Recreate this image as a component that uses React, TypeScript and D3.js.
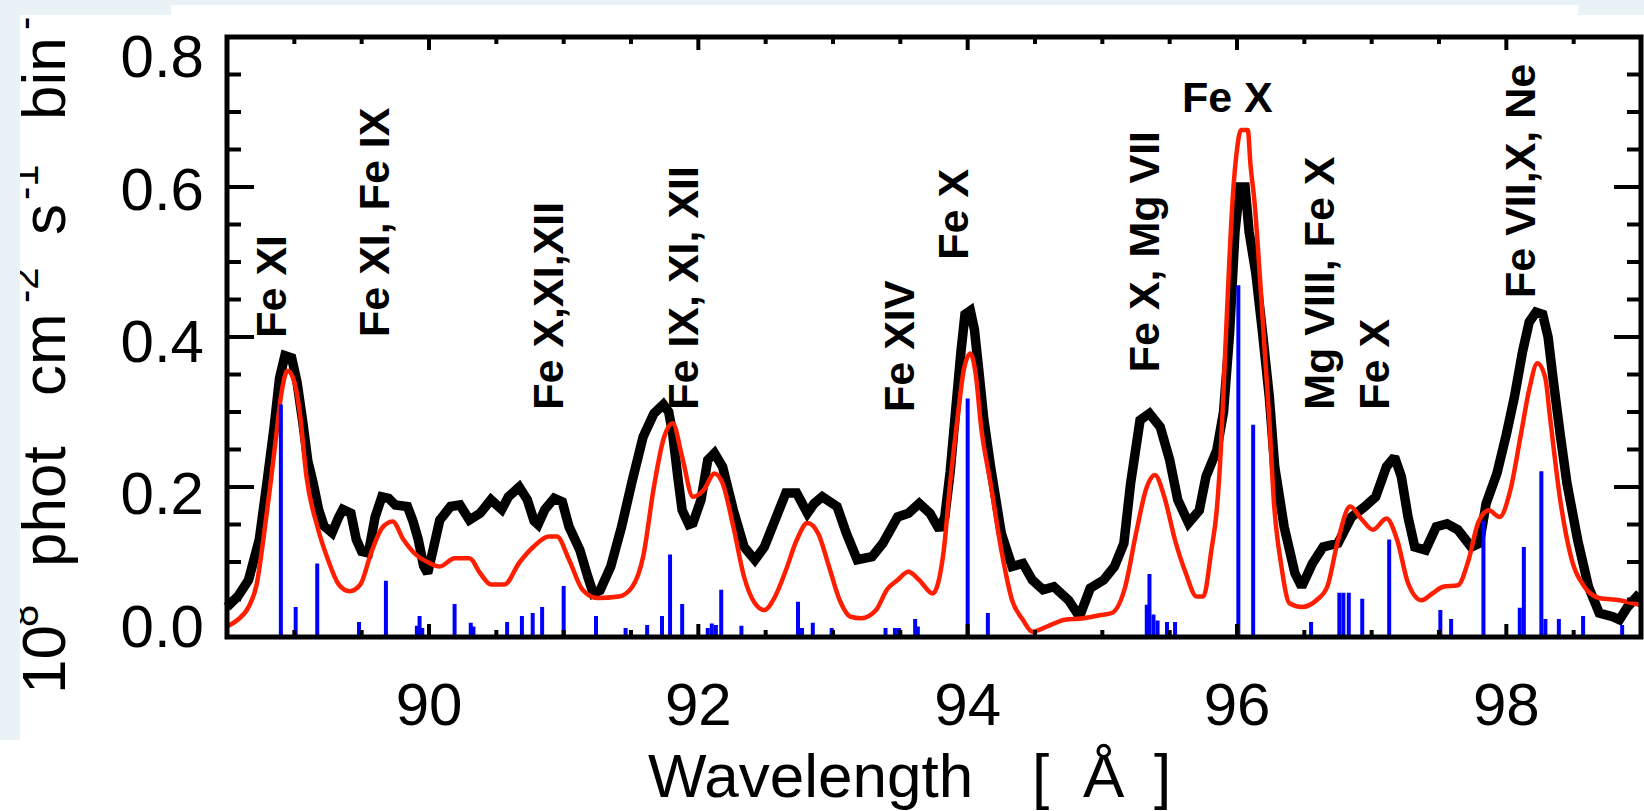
import React from 'react';
import * as d3 from 'd3';

// ---------- data ----------
const observedWave = [88.50,88.58,88.66,88.74,88.80,88.85,88.89,88.93,88.98,89.02,89.06,89.10,89.14,89.18,89.22,89.28,89.33,89.36,89.42,89.46,89.50,89.55,89.60,89.65,89.70,89.75,89.84,89.88,89.92,89.96,89.99,90.03,90.08,90.16,90.23,90.30,90.38,90.46,90.54,90.59,90.67,90.73,90.78,90.81,90.86,90.93,90.99,91.04,91.12,91.18,91.22,91.27,91.35,91.43,91.51,91.59,91.67,91.74,91.78,91.81,91.85,91.88,91.93,91.96,92.02,92.07,92.12,92.18,92.26,92.34,92.42,92.49,92.57,92.65,92.73,92.81,92.86,92.92,93.03,93.10,93.18,93.29,93.37,93.48,93.56,93.64,93.72,93.79,93.83,93.87,93.91,93.95,93.98,94.02,94.05,94.08,94.12,94.17,94.25,94.33,94.41,94.48,94.56,94.64,94.75,94.83,94.91,95.01,95.09,95.16,95.21,95.28,95.35,95.43,95.50,95.56,95.64,95.72,95.77,95.85,95.90,95.945,95.985,96.02,96.06,96.09,96.14,96.19,96.24,96.28,96.35,96.43,96.48,96.56,96.64,96.75,96.85,96.95,97.03,97.11,97.17,97.22,97.27,97.32,97.40,97.48,97.56,97.64,97.74,97.80,97.85,97.93,98.00,98.06,98.12,98.17,98.22,98.27,98.31,98.35,98.40,98.45,98.53,98.61,98.69,98.79,98.84,98.90,98.99];
const observedFlux = [0.040,0.054,0.076,0.13,0.21,0.28,0.345,0.375,0.372,0.34,0.29,0.235,0.205,0.17,0.148,0.139,0.16,0.17,0.165,0.13,0.114,0.112,0.16,0.187,0.185,0.176,0.174,0.155,0.13,0.095,0.085,0.116,0.156,0.174,0.176,0.156,0.165,0.183,0.17,0.187,0.20,0.183,0.155,0.15,0.17,0.185,0.18,0.147,0.116,0.08,0.058,0.062,0.094,0.147,0.209,0.267,0.298,0.31,0.30,0.27,0.21,0.169,0.15,0.152,0.183,0.236,0.245,0.227,0.169,0.12,0.103,0.12,0.156,0.192,0.192,0.165,0.178,0.187,0.174,0.138,0.103,0.107,0.125,0.16,0.165,0.178,0.165,0.143,0.16,0.22,0.30,0.38,0.43,0.435,0.41,0.36,0.29,0.227,0.138,0.094,0.098,0.076,0.063,0.067,0.049,0.027,0.065,0.076,0.094,0.125,0.205,0.289,0.298,0.28,0.236,0.183,0.152,0.169,0.214,0.249,0.30,0.405,0.54,0.60,0.60,0.54,0.485,0.405,0.32,0.227,0.147,0.085,0.067,0.098,0.12,0.125,0.16,0.174,0.187,0.227,0.24,0.214,0.16,0.12,0.116,0.147,0.151,0.143,0.12,0.125,0.178,0.218,0.27,0.32,0.38,0.42,0.433,0.43,0.40,0.34,0.27,0.205,0.129,0.067,0.032,0.027,0.023,0.04,0.058];

const modelWave = [88.50,88.58,88.66,88.72,88.77,88.82,88.86,88.90,88.95,89.00,89.04,89.09,89.17,89.25,89.33,89.41,89.49,89.57,89.65,89.73,89.81,89.89,90.00,90.08,90.19,90.30,90.38,90.46,90.56,90.67,90.78,90.89,90.95,91.04,91.14,91.25,91.41,91.51,91.59,91.67,91.74,91.81,91.88,91.96,92.04,92.12,92.18,92.26,92.34,92.42,92.49,92.57,92.65,92.73,92.81,92.89,92.97,93.05,93.13,93.21,93.32,93.40,93.48,93.56,93.64,93.74,93.82,93.87,93.93,93.97,94.02,94.06,94.10,94.17,94.25,94.33,94.41,94.48,94.59,94.72,94.86,94.98,95.07,95.17,95.25,95.33,95.39,95.46,95.54,95.62,95.70,95.75,95.81,95.85,95.88,95.91,95.94,95.97,96.00,96.03,96.08,96.10,96.13,96.17,96.21,96.24,96.27,96.33,96.39,96.48,96.59,96.67,96.75,96.84,96.93,97.01,97.11,97.19,97.27,97.37,97.45,97.53,97.64,97.72,97.79,97.87,97.95,98.03,98.11,98.17,98.23,98.29,98.32,98.40,98.48,98.58,98.69,98.84,98.99];
const modelFlux = [0.014,0.023,0.04,0.07,0.13,0.20,0.26,0.32,0.355,0.34,0.30,0.214,0.148,0.103,0.07,0.061,0.07,0.112,0.145,0.154,0.13,0.112,0.099,0.094,0.105,0.105,0.085,0.07,0.07,0.099,0.121,0.134,0.134,0.103,0.063,0.052,0.054,0.067,0.107,0.2,0.263,0.285,0.24,0.187,0.196,0.218,0.205,0.147,0.08,0.045,0.036,0.054,0.089,0.129,0.152,0.138,0.094,0.049,0.027,0.025,0.036,0.063,0.076,0.087,0.076,0.058,0.112,0.205,0.30,0.355,0.378,0.35,0.28,0.205,0.116,0.049,0.023,0.007,0.014,0.023,0.025,0.029,0.032,0.067,0.138,0.2,0.216,0.187,0.129,0.085,0.054,0.054,0.116,0.17,0.25,0.37,0.49,0.59,0.65,0.676,0.676,0.63,0.58,0.48,0.37,0.29,0.19,0.094,0.045,0.04,0.049,0.067,0.129,0.174,0.156,0.143,0.158,0.129,0.072,0.049,0.058,0.067,0.069,0.103,0.152,0.169,0.16,0.196,0.272,0.33,0.365,0.345,0.30,0.183,0.107,0.067,0.052,0.049,0.043];

const lineWave = [88.90,89.01,89.17,89.48,89.68,89.91,89.93,89.95,90.19,90.31,90.33,90.58,90.69,90.77,90.84,91.00,91.24,91.46,91.62,91.73,91.79,91.88,92.07,92.10,92.13,92.17,92.32,92.74,92.77,92.85,92.99,93.39,93.46,93.49,93.61,93.63,94.00,94.15,95.33,95.35,95.38,95.41,95.48,95.54,96.01,96.12,96.55,96.76,96.79,96.83,96.93,97.13,97.51,97.59,97.83,98.10,98.13,98.26,98.29,98.39,98.57,98.86];
const lineFlux = [0.31,0.04,0.098,0.02,0.075,0.015,0.028,0.012,0.044,0.019,0.014,0.02,0.028,0.032,0.04,0.068,0.028,0.012,0.016,0.028,0.11,0.044,0.012,0.018,0.016,0.063,0.015,0.047,0.012,0.019,0.012,0.012,0.012,0.012,0.024,0.014,0.318,0.032,0.043,0.084,0.03,0.022,0.02,0.02,0.469,0.283,0.02,0.059,0.059,0.059,0.051,0.13,0.036,0.024,0.155,0.039,0.12,0.221,0.024,0.024,0.028,0.016];

const xMajorTicks = [90, 92, 94, 96, 98];
const xTickLabels = ['90', '92', '94', '96', '98'];
const yMajorTicks = [0, 0.2, 0.4, 0.6, 0.8];
const yTickLabels = ['0.0', '0.2', '0.4', '0.6', '0.8'];
const yTickNudge = [-12, 5, 3, 1, 18];

// ion annotations (rotated), anchored in data coordinates
const ionText = ['Fe XI', 'Fe XI, Fe IX', 'Fe X,XI,XII', 'Fe IX, XI, XII', 'Fe XIV', 'Fe X', 'Fe X, Mg VII', 'Mg VIII, Fe X', 'Fe X', 'Fe VII,X, Ne'];
const ionWave = [88.938, 89.703, 90.995, 91.997, 93.601, 94.002, 95.421, 96.720, 97.129, 98.213];
const ionLevel = [0.399, 0.400, 0.303, 0.303, 0.300, 0.503, 0.353, 0.303, 0.303, 0.452];
const topLabelText = 'Fe X';
const topLabelWave = 95.591;
const topLabelLevel = 0.70;

// ---------- layout ----------
const W = 1644;
const H = 811;
const PL = 227, PR = 1641, PT = 37, PB = 637;
const BLUISH = '#e9f2f6';
const FONT = '"Liberation Sans", Arial, Helvetica, sans-serif';

export default function App() {
  const x = d3.scaleLinear().domain([88.5, 99.0]).range([PL, PR]);
  const y = d3.scaleLinear().domain([0, 0.8]).range([PB, PT]);

  const obs = observedWave.map((w, i) => [w, observedFlux[i]] as [number, number]);
  const mod = modelWave.map((w, i) => [w, modelFlux[i]] as [number, number]);

  const obsPath = d3.line<[number, number]>().x(d => x(d[0])).y(d => y(d[1])).curve(d3.curveLinear)(obs) || '';
  const modPath = d3.line<[number, number]>().x(d => x(d[0])).y(d => y(d[1])).curve(d3.curveMonotoneX)(mod) || '';

  const xMinor = d3.range(88.5, 99.001, 0.5).filter(v => !xMajorTicks.some(m => Math.abs(m - v) < 1e-6) && v > 88.51 && v < 98.99);
  const yMinor = d3.range(0.05, 0.8, 0.05).filter(v => !yMajorTicks.some(m => Math.abs(m - v) < 1e-6));

  const yTitle = [
    { t: '10', size: 62, start: 694, base: 65 },
    { t: '8', size: 40, start: 627, base: 38 },
    { t: 'phot', size: 62, start: 567, base: 65 },
    { t: 'cm', size: 62, start: 396, base: 65 },
    { t: '-2', size: 40, start: 303, base: 38 },
    { t: 's', size: 62, start: 235, base: 65 },
    { t: '-1', size: 40, start: 200, base: 38 },
    { t: 'bin', size: 62, start: 120, base: 65 },
    { t: '-1', size: 40, start: 30, base: 38 },
  ];

  return (
    <svg width={W} height={H} viewBox={`0 0 ${W} ${H}`}
      style={{ position: 'absolute', left: 0, top: 0, display: 'block', background: '#fff' }}>
      <rect x={0} y={0} width={W} height={H} fill="#fff" />

      {/* observed spectrum */}
      <path d={obsPath} fill="none" stroke="#000" strokeWidth={9.5} strokeLinejoin="miter" strokeMiterlimit={2} />
      {/* model */}
      <path d={modPath} fill="none" stroke="#ff1e00" strokeWidth={4.5} strokeLinejoin="round" />
      {/* line list */}
      {lineWave.map((w, i) => (
        <line key={'b' + i} x1={x(w)} x2={x(w)} y1={y(0)} y2={y(lineFlux[i])} stroke="#0000ff" strokeWidth={4} />
      ))}

      {/* frame */}
      <rect x={PL} y={PT} width={PR - PL} height={PB - PT} fill="none" stroke="#000" strokeWidth={5} />
      {/* x ticks */}
      {xMajorTicks.map(v => (
        <g key={'xm' + v}>
          <line x1={x(v)} x2={x(v)} y1={PB} y2={PB - 13} stroke="#000" strokeWidth={4} />
          <line x1={x(v)} x2={x(v)} y1={PT} y2={PT + 13} stroke="#000" strokeWidth={4} />
        </g>
      ))}
      {xMinor.map(v => (
        <g key={'xn' + v}>
          <line x1={x(v)} x2={x(v)} y1={PB} y2={PB - 7} stroke="#000" strokeWidth={4} />
          <line x1={x(v)} x2={x(v)} y1={PT} y2={PT + 7} stroke="#000" strokeWidth={4} />
        </g>
      ))}
      {/* y ticks */}
      {yMajorTicks.map(v => (
        <g key={'ym' + v}>
          <line x1={PL} x2={PL + 27} y1={y(v)} y2={y(v)} stroke="#000" strokeWidth={4} />
          <line x1={PR} x2={PR - 27} y1={y(v)} y2={y(v)} stroke="#000" strokeWidth={4} />
        </g>
      ))}
      {yMinor.map(v => (
        <g key={'yn' + v}>
          <line x1={PL} x2={PL + 14} y1={y(v)} y2={y(v)} stroke="#000" strokeWidth={4} />
          <line x1={PR} x2={PR - 14} y1={y(v)} y2={y(v)} stroke="#000" strokeWidth={4} />
        </g>
      ))}

      {/* tick labels */}
      {xMajorTicks.map((v, i) => (
        <text key={'xl' + v} x={x(v)} y={725} textAnchor="middle" fontFamily={FONT} fontSize={60} fill="#000">{xTickLabels[i]}</text>
      ))}
      {yMajorTicks.map((v, i) => (
        <text key={'yl' + v} x={204} y={y(v) + yTickNudge[i] + 21.5} textAnchor="end" fontFamily={FONT} fontSize={60} fill="#000">{yTickLabels[i]}</text>
      ))}

      {/* x title */}
      <g fontFamily={FONT} fontSize={62} fill="#000">
        <text x={648} y={797}>Wavelength</text>
        <text x={1032} y={797}>[</text>
        <text x={1083} y={797}>Å</text>
        <text x={1154} y={797}>]</text>
      </g>

      {/* y title */}
      <g fontFamily={FONT} fill="#000">
        {yTitle.map((p, i) => (
          <text key={'yt' + i} transform={`translate(${p.base},${p.start}) rotate(-90)`} fontSize={p.size}>{p.t}</text>
        ))}
      </g>

      {/* ion annotations */}
      <g fontFamily={FONT} fontWeight="bold" fontSize={43} fill="#000">
        {ionText.map((t, i) => (
          <text key={'ion' + i} transform={`translate(${x(ionWave[i])},${y(ionLevel[i])}) rotate(-90)`}>{t}</text>
        ))}
        <text x={x(topLabelWave)} y={y(topLabelLevel)}>{topLabelText}</text>
      </g>

      {/* page surround */}
      <rect x={0} y={0} width={W} height={5} fill={BLUISH} />
      <rect x={0} y={0} width={171} height={15} fill={BLUISH} />
      <rect x={1578} y={0} width={W - 1578} height={15} fill={BLUISH} />
      <rect x={0} y={0} width={20} height={740} fill={BLUISH} />
    </svg>
  );
}
